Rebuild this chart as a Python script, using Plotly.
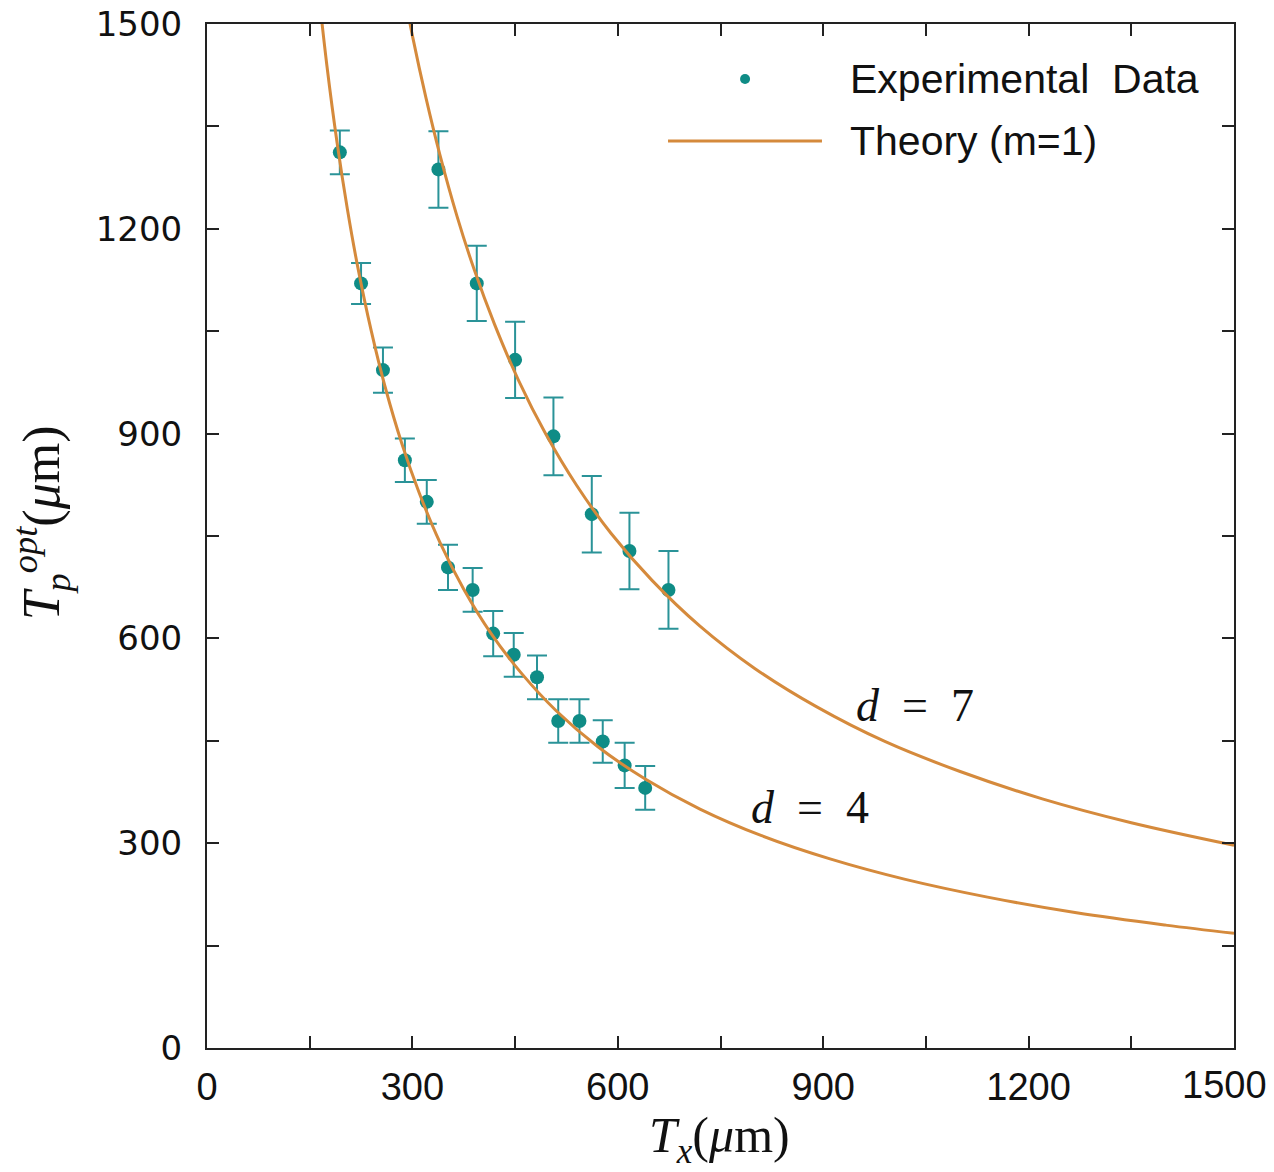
import plotly.graph_objects as go

# ---- data ----
d4_x = [194, 225, 257, 289, 321, 352, 388, 418, 448, 482, 513, 544, 578, 610, 640]
d4_y = [1312, 1120, 993, 861, 800, 704, 671, 607, 576, 543, 479, 479, 449, 414, 381]
d4_err = [32, 30, 33, 32, 32, 33, 32, 33, 32, 32, 32, 32, 31, 33, 32]

d7_x = [338, 394, 450, 506, 562, 617, 674]
d7_y = [1287, 1120, 1008, 896, 782, 728, 671]
d7_err = [56, 55, 56, 57, 56, 56, 57]

# theory curves
th4_x = [160, 175, 190, 205, 220, 240, 260, 285, 310, 340, 375, 415, 460, 510, 570,
         640, 720, 810, 910, 1020, 1140, 1270, 1400, 1500]
th4_y = [1575, 1440, 1326, 1229, 1145, 1050, 969, 884, 813, 741, 672, 607, 548, 494, 442,
         394, 350, 311, 277, 247, 221, 198, 180, 168]
th7_x = [285, 300, 320, 340, 365, 390, 420, 455, 495, 540, 590, 650, 720, 800, 890,
         990, 1100, 1220, 1350, 1500]
th7_y = [1561, 1483, 1391, 1309, 1219, 1141, 1060, 978, 899, 824, 754, 685, 618, 556, 500,
         449, 405, 365, 330, 297]

tick_vals = [0, 150, 300, 450, 600, 750, 900, 1050, 1200, 1350, 1500]
y_tick_text = ["0", "", "300", "", "600", "", "900", "", "1200", "", "1500"]
x_tick_text = ["0", "", "300", "", "600", "", "900", "", "1200", "", ""]
x_last_label = "1500"   # drawn slightly inset, as in the reference

curve_labels = ["<i>d</i>\u2002=\u20027", "<i>d</i>\u2002=\u20024"]
curve_label_x = [1034, 881]
curve_label_y = [501, 352]

DOT = "#0f8c86"
ERR = "#2a9398"
LINE = "#d58a3c"
XFONT = dict(family="Liberation Sans, Arial", size=38, color="#111")

fig = go.Figure()
for xs, ys, es in [(d4_x, d4_y, d4_err), (d7_x, d7_y, d7_err)]:
    fig.add_trace(go.Scatter(
        x=xs, y=ys, mode="markers",
        marker=dict(size=14, color=DOT),
        error_y=dict(type="data", array=es, visible=True, color=ERR, thickness=2, width=10),
        showlegend=False, cliponaxis=False))
for xs, ys in [(th4_x, th4_y), (th7_x, th7_y)]:
    fig.add_trace(go.Scatter(
        x=xs, y=ys, mode="lines", line=dict(color=LINE, width=3, shape="spline"),
        showlegend=False))

axis_common = dict(
    showgrid=False, zeroline=False, showline=True, linecolor="#222", linewidth=2,
    mirror="ticks", ticks="inside", ticklen=12, tickwidth=1.5, tickcolor="#222",
    tickvals=tick_vals, range=[0, 1500],
    automargin=False, ticklabeloverflow="allow",
)
fig.update_xaxes(**axis_common, ticktext=x_tick_text, tickfont=XFONT, ticklabelstandoff=4)
fig.update_yaxes(**axis_common, ticktext=y_tick_text,
                 tickfont=dict(family="DejaVu Sans", size=34, color="#111"),
                 ticklabelstandoff=16)

annotations = []
for t, x, y in zip(curve_labels, curve_label_x, curve_label_y):
    annotations.append(dict(x=x, y=y, xref="x", yref="y", text=t, showarrow=False,
                            xanchor="center", yanchor="middle",
                            font=dict(family="Liberation Serif, DejaVu Serif", size=46, color="#111")))
annotations.append(dict(x=tick_vals[-1], y=0, xref="x", yref="y", text=x_last_label,
                        showarrow=False, xanchor="center", yanchor="middle",
                        xshift=-10, yshift=-37, font=XFONT))
# axis titles
annotations.append(dict(x=0.4995, y=-0.089, xref="paper", yref="paper",
                        xanchor="center", yanchor="middle",
                        text="<i>T<sub>x</sub></i>(<i>μ</i>m)", showarrow=False,
                        font=dict(family="Liberation Serif, DejaVu Serif", size=50, color="#111")))
annotations.append(dict(x=-0.161, y=0.513, xref="paper", yref="paper", textangle=-90,
                        xanchor="center", yanchor="middle",
                        text="<i>T<sub>p</sub><sup>opt</sup></i>(<i>μ</i>m)", showarrow=False,
                        font=dict(family="Liberation Serif, DejaVu Serif", size=52, color="#111")))
# legend text
annotations.append(dict(x=0.6241, y=0.9463, xref="paper", yref="paper", xanchor="left",
                        yanchor="middle", text="Experimental  Data", showarrow=False,
                        font=dict(family="Liberation Sans, Arial", size=41, color="#111")))
annotations.append(dict(x=0.6241, y=0.8857, xref="paper", yref="paper", xanchor="left",
                        yanchor="middle", text="Theory (m=1)", showarrow=False,
                        font=dict(family="Liberation Sans, Arial", size=41, color="#111")))

shapes = [
    dict(type="line", xref="paper", yref="paper", x0=0.4489, x1=0.5988, y0=0.8857, y1=0.8857,
         line=dict(color=LINE, width=3)),
    dict(type="circle", xref="paper", yref="paper", xsizemode="pixel", ysizemode="pixel",
         xanchor=0.5239, yanchor=0.9463, x0=-5, x1=5, y0=-5, y1=5,
         fillcolor=DOT, line=dict(color=DOT, width=0)),
]

fig.update_layout(
    width=1274, height=1172,
    margin=dict(l=207, r=40, t=24, b=124),
    plot_bgcolor="white", paper_bgcolor="white",
    annotations=annotations, shapes=shapes, showlegend=False,
)
# remove the default 8px page margin so the figure fills the window exactly
fig.write_html("out.html", config={"displayModeBar": False},
               post_script="document.body.style.margin='0';")
